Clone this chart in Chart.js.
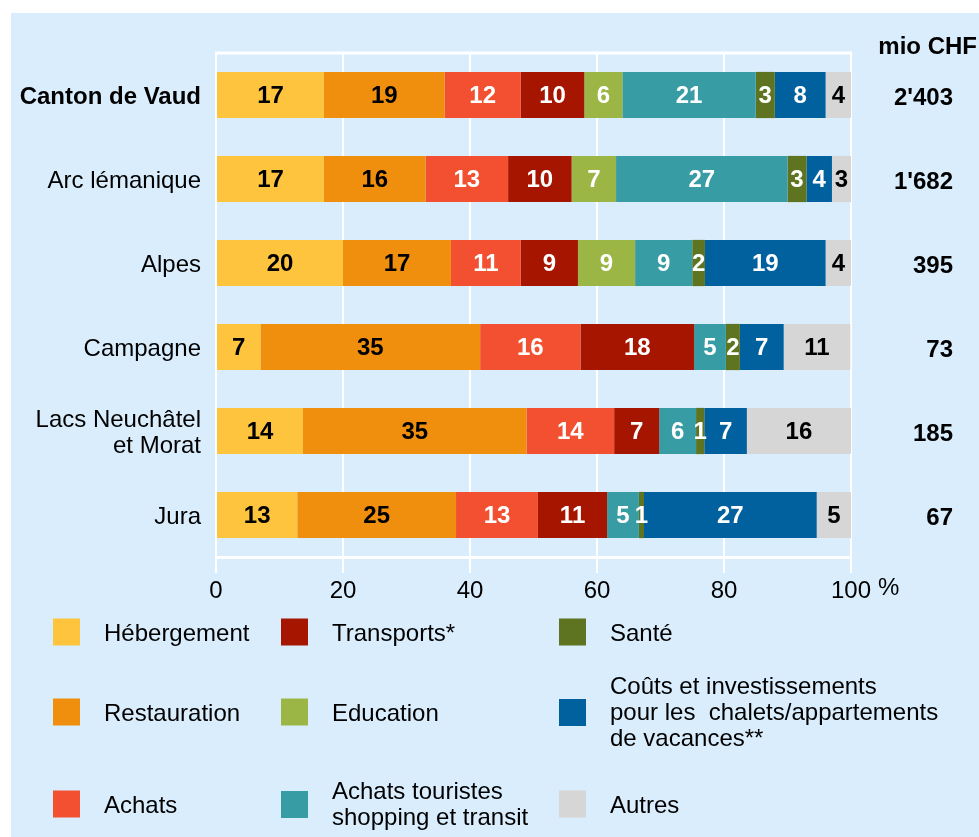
<!DOCTYPE html>
<html>
<head>
<meta charset="utf-8">
<script src="https://cdn.jsdelivr.net/npm/chart.js@4"></script>
<style>
  body { margin: 0; background: #fff; }
  #wrap { position: relative; width: 979px; height: 837px; overflow: hidden;
          font-family: 'Liberation Sans', Arial, sans-serif; }
  #panel { position: absolute; left: 11px; top: 13px; right: 0; bottom: 0; background: #d9edfc; }
  #chart { position: absolute; left: 0; top: 0; }
  .lg { position: absolute; display: flex; align-items: center; transform: translateY(-50%);
        font-size: 24px; line-height: 26px; color: #000; white-space: pre; }
  .sw { width: 27px; height: 27px; margin-right: 24px; flex: none; }
</style>
</head>
<body>
<div id="wrap">
  <div id="panel"></div>
  <canvas id="chart" width="979" height="837"></canvas>
  <div id="legend"></div>
</div>
<script>
/* ── Régions et totaux (mio CHF) ── */
const REGIONS = ['Canton de Vaud', 'Arc lémanique', 'Alpes', 'Campagne', ['Lacs Neuchâtel', 'et Morat'], 'Jura'];
const TOTALS  = ["2'403", "1'682", '395', '73', '185', '67'];

/* ── Catégories de dépenses ── */
const SERIES = [
  'Hébergement', 'Restauration', 'Achats',
  'Transports*', 'Education', 'Achats touristes\nshopping et transit',
  'Santé', 'Coûts et investissements\npour les  chalets/appartements\nde vacances**', 'Autres'
];
const COLORS = ['#fec43d', '#f08f0e', '#f25030', '#a51500', '#9bb645', '#379ca4', '#5e7420', '#00619e', '#d6d6d6'];
const LABEL_COLORS = ['#000', '#000', '#fff', '#fff', '#fff', '#fff', '#fff', '#fff', '#000'];

/* ── Parts en % (Vaud, Arc lémanique, Alpes, Campagne, Lacs, Jura) ── */
const HEBERGEMENT  = [17, 17, 20,  7.0, 13.7, 12.8];
const RESTAURATION = [19, 16, 17, 34.6, 35.2, 25.0];
const ACHATS       = [12, 13, 11, 15.8, 13.8, 12.9];
const TRANSPORTS   = [10, 10,  9, 17.9,  7.1, 10.9];
const EDUCATION    = [ 6,  7,  9,  0,    0,    0  ];
const TOURISTES    = [21, 27,  9,  5.0,  5.8,  5.0];
const SANTE        = [ 3,  3,  2,  2.2,  1.3,  0.8];
const CHALETS      = [ 8,  4, 19,  6.9,  6.7, 27.2];
const AUTRES       = [ 4,  3,  4, 10.5, 16.4,  5.4];
const VALUES = [HEBERGEMENT, RESTAURATION, ACHATS, TRANSPORTS, EDUCATION, TOURISTES, SANTE, CHALETS, AUTRES];

const FONT = "'Liberation Sans', Arial, sans-serif";
const FS = 24;
Chart.defaults.font.family = FONT;
Chart.defaults.color = '#000';

/* ── étiquettes dans les barres + totaux à droite ── */
const extras = {
  id: 'extras',
  beforeDatasetsDraw(chart) {
    const { ctx, chartArea: a } = chart;
    ctx.save();
    ctx.strokeStyle = '#fff';
    ctx.lineWidth = 3;
    ctx.beginPath();
    ctx.moveTo(a.left - 1, a.top);
    ctx.lineTo(a.right + 1, a.top);
    ctx.stroke();
    ctx.restore();
  },
  afterDatasetsDraw(chart) {
    const { ctx } = chart;
    ctx.save();
    ctx.font = 'bold ' + FS + 'px ' + FONT;
    ctx.textAlign = 'center';
    ctx.textBaseline = 'middle';
    chart.data.datasets.forEach((ds, i) => {
      chart.getDatasetMeta(i).data.forEach((el, j) => {
        const v = ds.data[j];
        if (!v) return;
        ctx.fillStyle = LABEL_COLORS[i];
        ctx.fillText(String(Math.round(v)), (el.x + el.base) / 2, el.y + 1);
      });
    });
    // totaux
    const y = chart.scales.y;
    ctx.fillStyle = '#000';
    ctx.textAlign = 'right';
    TOTALS.forEach((t, i) => ctx.fillText(t, 953, y.getPixelForValue(i) + 3));
    ctx.fillText('mio CHF', 977, 47);
    ctx.font = FS + 'px ' + FONT;
    ctx.textAlign = 'left';
    ctx.fillText('%', 878, 588);
    ctx.restore();
  }
};

new Chart(document.getElementById('chart'), {
  type: 'bar',
  data: {
    labels: REGIONS,
    datasets: SERIES.map((s, i) => ({
      label: s,
      data: VALUES[i],
      backgroundColor: COLORS[i],
      borderWidth: 0,
      barPercentage: 0.55,
      categoryPercentage: 1,
    }))
  },
  options: {
    indexAxis: 'y',
    responsive: false,
    animation: false,
    layout: { padding: { top: 53, right: 128, left: 0, bottom: 0 } },
    plugins: { legend: { display: false }, tooltip: { enabled: false } },
    scales: {
      x: {
        stacked: true, min: 0, max: 100,
        ticks: { stepSize: 20, color: '#000', font: { size: FS }, padding: 4 },
        grid: { color: '#fff', lineWidth: 2, tickLength: 16 },
        border: { color: '#fff', width: 3 },
        afterFit: s => { s.height = 280; }
      },
      y: {
        stacked: true,
        grid: { display: false, drawTicks: false },
        border: { display: false },
        ticks: {
          color: '#000', padding: 15, labelOffset: 2,
          font: c => ({ size: FS, lineHeight: 1.08, weight: c.index === 0 ? 'bold' : 'normal' })
        },
        afterFit: s => { s.width = 216; }
      }
    }
  },
  plugins: [extras]
});

/* ── Légende (3 colonnes) ── */
const LEG_X = [53, 281, 559];
const LEG_Y = [632, 712, 804];
const legend = document.getElementById('legend');
SERIES.forEach((s, i) => {
  const item = document.createElement('div');
  item.className = 'lg';
  item.style.left = LEG_X[Math.floor(i / 3)] + 'px';
  item.style.top = LEG_Y[i % 3] + 'px';
  const sw = document.createElement('div');
  sw.className = 'sw';
  sw.style.background = COLORS[i];
  const tx = document.createElement('div');
  tx.textContent = s;
  item.appendChild(sw);
  item.appendChild(tx);
  legend.appendChild(item);
});
</script>
</body>
</html>
